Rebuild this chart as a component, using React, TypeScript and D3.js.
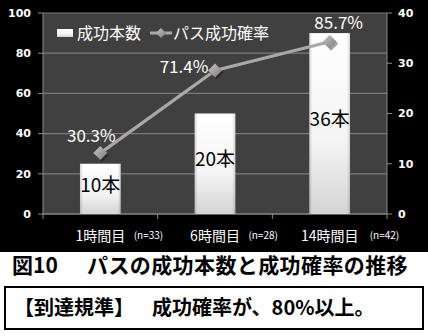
import React from "react";
import * as d3 from "d3";

const categories = ["1時間目", "6時間目", "14時間目"];
const sampleSizes = ["(n=33)", "(n=28)", "(n=42)"];
const successCounts = [10, 20, 36];
const successRates = [30.3, 71.4, 85.7];
const leftTicks = [0, 20, 40, 60, 80, 100];
const rightTicks = [0, 10, 20, 30, 40];
const seriesNames = ["成功本数", "パス成功確率"];
const titleNumber = "図10";
const titleText = "パスの成功本数と成功確率の推移";
const criterionHead = "【到達規準】";
const criterionBody = "成功確率が、80%以上。";

const W = 428;
const H = 336;
const plot = { left: 43, right: 387, top: 13, bottom: 214 };
const FONT = "'Noto Sans CJK JP', 'Noto Sans', sans-serif";
const rateLabelDx = [-9, -31, 9];
const rateLabelDy = [-17, -3, -19];

export default function App() {
  const x = d3
    .scaleBand<string>()
    .domain(categories)
    .range([plot.left, plot.right])
    .paddingInner(0)
    .paddingOuter(0);
  const yL = d3.scaleLinear().domain([0, 100]).range([plot.bottom, plot.top]);
  const yR = d3.scaleLinear().domain([0, 40]).range([plot.bottom, plot.top]);
  const barW = x.bandwidth() * 0.355;
  const cx = (c: string) => (x(c) as number) + x.bandwidth() / 2;

  const linePts: [number, number][] = categories.map((c, i) => [cx(c), yL(successRates[i])]);
  const line = d3.line()(linePts) || "";
  const diamond = (px: number, py: number, r: number) =>
    `M${px},${py - r}L${px + r},${py}L${px},${py + r}L${px - r},${py}Z`;

  const boundaries = d3.range(categories.length + 1).map((i) => plot.left + i * x.bandwidth());

  return (
    <svg
      width={W}
      height={H}
      style={{ position: "absolute", left: 0, top: 0, background: "#fff" }}
      fontFamily={FONT}
    >
      <defs>
        <linearGradient id="barGrad" x1="0" y1="0" x2="0" y2="1">
          <stop offset="0" stopColor="#ffffff" />
          <stop offset="0.6" stopColor="#f4f4f4" />
          <stop offset="1" stopColor="#d4d4d4" />
        </linearGradient>
        <linearGradient id="barEdge" x1="0" y1="0" x2="1" y2="0">
          <stop offset="0" stopColor="#000" stopOpacity="0.15" />
          <stop offset="0.08" stopColor="#000" stopOpacity="0" />
          <stop offset="0.92" stopColor="#000" stopOpacity="0" />
          <stop offset="1" stopColor="#000" stopOpacity="0.15" />
        </linearGradient>
        <linearGradient id="diaGrad" x1="0" y1="0" x2="1" y2="1">
          <stop offset="0" stopColor="#c8c8c8" />
          <stop offset="1" stopColor="#7a7a7a" />
        </linearGradient>
      </defs>

      {/* chart background */}
      <rect x={0} y={0} width={W} height={252} fill="#000" />
      <rect x={plot.left} y={plot.top} width={plot.right - plot.left} height={plot.bottom - plot.top} fill="#404040" />

      {/* gridlines */}
      {leftTicks.map((t) => (
        <line key={"g" + t} x1={plot.left} x2={plot.right} y1={yL(t)} y2={yL(t)} stroke="#7a7a7a" strokeWidth={1.2} />
      ))}

      {/* axes */}
      <line x1={plot.left} x2={plot.left} y1={plot.top} y2={plot.bottom} stroke="#8a8a8a" strokeWidth={1} />
      <line x1={plot.right} x2={plot.right} y1={plot.top} y2={plot.bottom} stroke="#8a8a8a" strokeWidth={1} />
      <line x1={plot.left} x2={plot.right} y1={plot.bottom} y2={plot.bottom} stroke="#8a8a8a" strokeWidth={1.2} />
      {leftTicks.map((t) => (
        <g key={"l" + t}>
          <line x1={plot.left - 5} x2={plot.left} y1={yL(t)} y2={yL(t)} stroke="#8a8a8a" />
          <text x={31} y={yL(t)} dy="0.35em" textAnchor="end" fill="#fff" fontSize={11} fontWeight="bold" fontFamily="'DejaVu Sans', sans-serif">
            {t}
          </text>
        </g>
      ))}
      {rightTicks.map((t) => (
        <g key={"r" + t}>
          <line x1={plot.right} x2={plot.right + 5} y1={yR(t)} y2={yR(t)} stroke="#8a8a8a" />
          <text x={398} y={yR(t)} dy="0.35em" textAnchor="start" fill="#fff" fontSize={11} fontWeight="bold" fontFamily="'DejaVu Sans', sans-serif">
            {t}
          </text>
        </g>
      ))}
      {boundaries.map((b, i) => (
        <line key={"xt" + i} x1={b} x2={b} y1={plot.bottom} y2={plot.bottom + 5} stroke="#8a8a8a" />
      ))}

      {/* bars */}
      {categories.map((c, i) => {
        const bx = cx(c) - barW / 2;
        const by = yR(successCounts[i]);
        const bh = plot.bottom - by;
        return (
          <g key={"b" + c}>
            <rect x={bx} y={by} width={barW} height={bh} fill="url(#barGrad)" />
            <rect x={bx} y={by} width={barW} height={bh} fill="url(#barEdge)" />
            <text x={cx(c)} y={by + bh / 2 - 4} dy="0.35em" textAnchor="middle" fill="#000" fontSize={19}>
              {successCounts[i]}本
            </text>
          </g>
        );
      })}

      {/* line */}
      <path d={line} fill="none" stroke="#a8a8a8" strokeWidth={3.2} />
      {linePts.map(([px, py], i) => (
        <g key={"m" + i}>
          <path d={diamond(px + 1.5, py + 2, 7)} fill="#000" opacity={0.35} />
          <path d={diamond(px, py, 7)} fill="url(#diaGrad)" />
          <text x={px + rateLabelDx[i]} y={py + rateLabelDy[i]} dy="0.35em" textAnchor="middle" fill="#fff" fontSize={17}>
            {successRates[i].toFixed(1)}%
          </text>
        </g>
      ))}

      {/* x labels */}
      {categories.map((c, i) => (
        <g key={"x" + c}>
          <text x={cx(c)} y={236} dy="0.35em" textAnchor="middle" fill="#fff" fontSize={14}>
            {c}
          </text>
          <text
            x={cx(c) + c.length * 6.6 + 7}
            y={235}
            dy="0.35em"
            textAnchor="start"
            fill="#fff"
            fontSize={10}
          >
            {sampleSizes[i]}
          </text>
        </g>
      ))}

      {/* legend */}
      <rect x={57} y={29} width={16} height={8} fill="url(#barGrad)" />
      <text x={77} y={33} dy="0.35em" fill="#fff" fontSize={16}>
        {seriesNames[0]}
      </text>
      <line x1={150} x2={172} y1={33} y2={33} stroke="#a8a8a8" strokeWidth={3} />
      <path d={diamond(161, 33, 5)} fill="url(#diaGrad)" />
      <text x={173} y={33} dy="0.35em" fill="#fff" fontSize={16}>
        {seriesNames[1]}
      </text>

      {/* caption */}
      <text x={12} y={266} dy="0.35em" fill="#000" fontSize={21} fontWeight="bold">
        {titleNumber}
      </text>
      <text x={87} y={266} dy="0.35em" fill="#000" fontSize={21} fontWeight="bold" letterSpacing={0.4}>
        {titleText}
      </text>
      <rect x={5} y={287} width={418} height={42} fill="none" stroke="#000" strokeWidth={2} />
      <text x={14} y={308} dy="0.35em" fill="#000" fontSize={20} fontWeight="bold">
        {criterionHead}
      </text>
      <text x={152} y={308} dy="0.35em" fill="#000" fontSize={20} fontWeight="bold">
        {criterionBody}
      </text>
    </svg>
  );
}
